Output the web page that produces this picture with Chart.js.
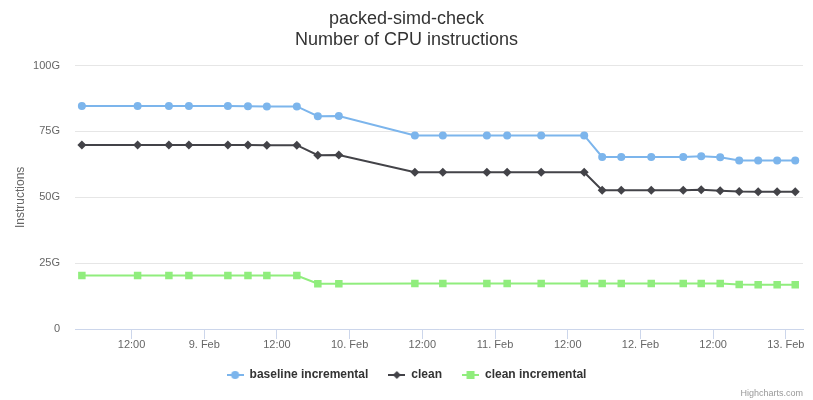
<!DOCTYPE html>
<html>
<head>
<meta charset="utf-8">
<script src="https://cdn.jsdelivr.net/npm/chart.js@4.4.1/dist/chart.umd.min.js"></script>
<style>
html,body{margin:0;padding:0;background:#fff;}
#wrap{width:813px;height:400px;position:relative;}
</style>
</head>
<body>
<div id="wrap"><canvas id="c" width="813" height="400"></canvas></div>
<script>
// ---- data ----
const times = [
  '2019-02-08T03:48','2019-02-08T13:00','2019-02-08T18:10','2019-02-08T21:28',
  '2019-02-09T03:54','2019-02-09T07:13','2019-02-09T10:20','2019-02-09T15:17',
  '2019-02-09T18:45','2019-02-09T22:13','2019-02-10T10:46','2019-02-10T15:23',
  '2019-02-10T22:39','2019-02-11T02:00','2019-02-11T07:37','2019-02-11T14:43',
  '2019-02-11T17:41','2019-02-11T20:50','2019-02-12T01:47','2019-02-12T07:04',
  '2019-02-12T10:02','2019-02-12T13:10','2019-02-12T16:18','2019-02-12T19:26',
  '2019-02-12T22:34','2019-02-13T01:33'
];
const baselineIncremental = [84.7,84.7,84.7,84.7,84.7,84.6,84.5,84.5,80.8,80.9,73.5,73.5,73.5,73.5,73.5,73.5,65.3,65.3,65.3,65.3,65.6,65.2,64.0,64.0,64.0,64.0];
const clean = [69.9,69.9,69.9,69.9,69.9,69.9,69.8,69.8,66.0,66.1,59.5,59.5,59.5,59.5,59.5,59.5,52.7,52.7,52.7,52.7,52.9,52.5,52.2,52.1,52.1,52.1];
const cleanIncremental = [20.3,20.3,20.3,20.3,20.3,20.3,20.3,20.3,17.2,17.2,17.3,17.3,17.3,17.3,17.3,17.3,17.3,17.3,17.3,17.3,17.3,17.3,16.9,16.8,16.8,16.8];
const seriesNames = ['baseline incremental','clean','clean incremental'];
const xTickTimes = ['2019-02-08T12:00','2019-02-09T00:00','2019-02-09T12:00','2019-02-10T00:00','2019-02-10T12:00','2019-02-11T00:00','2019-02-11T12:00','2019-02-12T00:00','2019-02-12T12:00','2019-02-13T00:00'];
const xTickLabels = ['12:00','9. Feb','12:00','10. Feb','12:00','11. Feb','12:00','12. Feb','12:00','13. Feb'];
const yTickValues = [0,25,50,75,100];
const yTickLabels = ['0','25G','50G','75G','100G'];

// ---- build ----
const toMs = s => Date.parse(s + ':00Z');
const xs = times.map(toMs);
const tickMs = xTickTimes.map(toMs);
const mk = arr => arr.map((v,i)=>({x:xs[i], y:v}));

function symbol(color, kind){
  const c = document.createElement('canvas');
  c.width = 17; c.height = 12;
  const g = c.getContext('2d');
  g.strokeStyle = color; g.lineWidth = 2;
  g.beginPath(); g.moveTo(0,6); g.lineTo(17,6); g.stroke();
  g.fillStyle = color;
  g.beginPath();
  if (kind==='circle'){ g.arc(8.5,6,4,0,Math.PI*2); }
  else if (kind==='diamond'){ g.moveTo(8.5,2); g.lineTo(12.5,6); g.lineTo(8.5,10); g.lineTo(4.5,6); g.closePath(); }
  else { g.rect(4.5,2,8,8); }
  g.fill();
  return c;
}
const colors = ['#7cb5ec','#434348','#90ed7d'];
const symbols = [symbol(colors[0],'circle'), symbol(colors[1],'diamond'), symbol(colors[2],'square')];

const FONT = "'Liberation Sans', Arial, sans-serif";

const credit = {
  id:'credit',
  afterDraw(chart){
    const ctx = chart.ctx;
    ctx.save();
    ctx.font = '9px ' + FONT;
    ctx.fillStyle = '#999999';
    ctx.textAlign = 'right';
    ctx.textBaseline = 'alphabetic';
    ctx.fillText('Highcharts.com', 803, 396);
    ctx.restore();
  }
};

new Chart(document.getElementById('c'), {
  type:'line',
  data:{
    datasets:[
      {label:seriesNames[0], data:mk(baselineIncremental), borderColor:colors[0], backgroundColor:colors[0], pointStyle:'circle', pointRadius:4, borderWidth:2, pointBorderWidth:0},
      {label:seriesNames[1], data:mk(clean), borderColor:colors[1], backgroundColor:colors[1], pointStyle:'rectRot', pointRadius:4.5, borderWidth:2, pointBorderWidth:0},
      {label:seriesNames[2], data:mk(cleanIncremental), borderColor:colors[2], backgroundColor:colors[2], pointStyle:'rect', pointRadius:5.3, borderWidth:2, pointBorderWidth:0}
    ]
  },
  options:{
    responsive:false,
    animation:false,
    events:[],
    layout:{padding:{left:10,right:10,top:0,bottom:9}},
    plugins:{
      tooltip:{enabled:false},
      title:{
        display:true,
        text:['packed-simd-check','Number of CPU instructions'],
        color:'#333333',
        font:{family:FONT,size:18,weight:'normal',lineHeight:1.17},
        padding:{top:8.5,bottom:15}
      },
      legend:{
        position:'bottom',
        labels:{
          usePointStyle:true,
          pointStyleWidth:17,
          boxHeight:12,
          padding:20,
          color:'#333333',
          font:{family:FONT,size:12,weight:'bold'},
          generateLabels(chart){
            return chart.data.datasets.map((d,i)=>({
              text:d.label, pointStyle:symbols[i], fillStyle:d.borderColor, strokeStyle:d.borderColor,
              lineWidth:0, hidden:false, datasetIndex:i, fontColor:'#333333'
            }));
          }
        }
      }
    },
    scales:{
      x:{
        type:'linear',
        min:toMs('2019-02-08T02:40'),
        max:toMs('2019-02-13T02:50'),
        afterBuildTicks(s){ s.ticks = tickMs.map(v=>({value:v})); },
        afterFit(s){ s.height = 20; },
        ticks:{
          autoSkip:false, maxRotation:0, padding:-1,
          color:'#666666', font:{family:FONT,size:11},
          callback(v){ const i = tickMs.indexOf(v); return i>=0 ? xTickLabels[i] : ''; }
        },
        grid:{display:true, drawOnChartArea:false, drawTicks:true, tickLength:10, color:'#ccd6eb', lineWidth:1},
        border:{display:true, color:'#ccd6eb', width:1}
      },
      y:{
        min:0, max:100,
        afterBuildTicks(s){ s.ticks = yTickValues.map(v=>({value:v})); },
        afterFit(s){ s.width = 65; },
        ticks:{
          padding:15, color:'#666666', font:{family:FONT,size:11},
          callback(v){ const i = yTickValues.indexOf(v); return i>=0 ? yTickLabels[i] : ''; }
        },
        grid:{color:'#e6e6e6', lineWidth:1, drawTicks:false},
        border:{display:false},
        title:{display:true, text:'Instructions', color:'#666666', font:{family:FONT,size:12,weight:'normal'}, padding:{top:3,bottom:0}}
      }
    }
  },
  plugins:[credit]
});
</script>
</body>
</html>
